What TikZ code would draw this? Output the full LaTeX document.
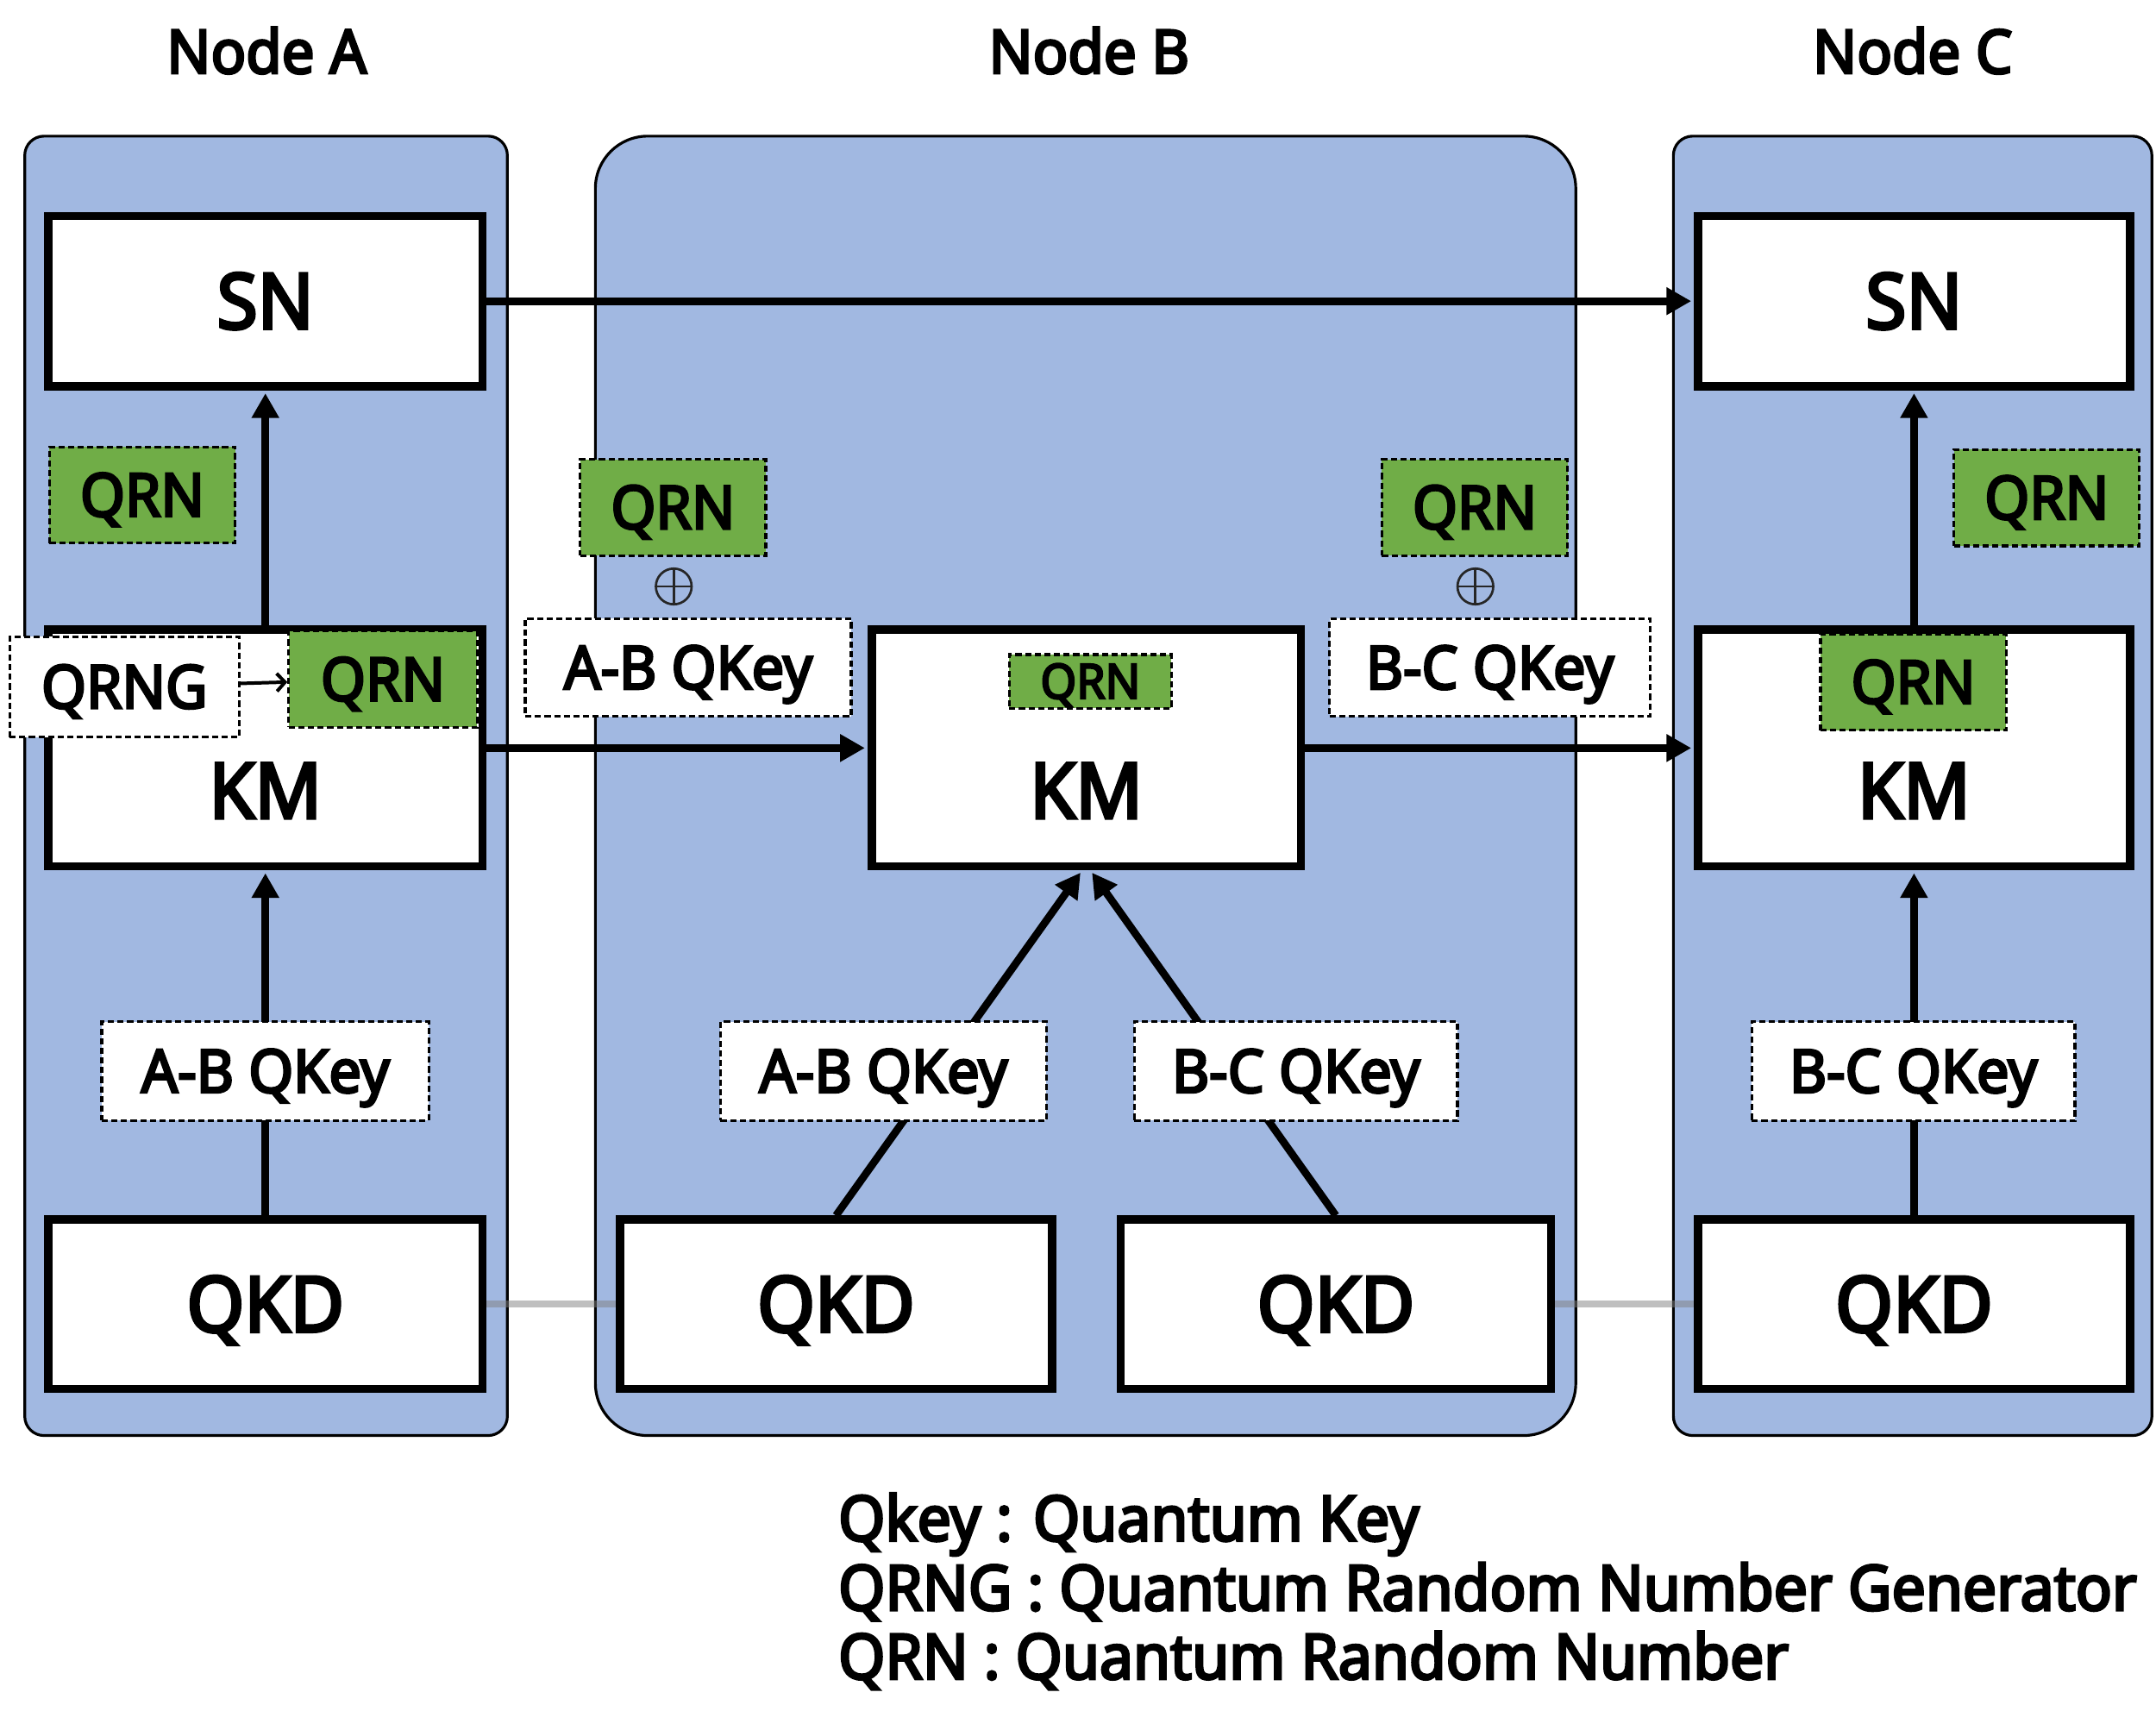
\documentclass[tikz,border=0pt]{standalone}
\usepackage{fontspec}
\setmainfont{Noto Sans}[AutoFakeBold=4.2, FakeStretch=0.96]
\usetikzlibrary{arrows.meta}
\definecolor{cblue}{RGB}{161,184,225}
\definecolor{cgreen}{RGB}{112,173,71}
\newcommand\myfs[1]{\fontsize{#1pt}{#1pt}\selectfont\bfseries}
\begin{document}
\begin{tikzpicture}[x=1pt,y=-1pt,
  container/.style={draw=black, line width=2pt, fill=cblue, inner sep=0pt},
  mainbox/.style={draw=black, line width=6pt, fill=white, inner sep=0pt, font=\myfs{56}, text height=40pt, text depth=0pt},
  bigtext/.style={inner sep=0pt, font=\myfs{56}, text height=40pt, text depth=0pt},
  dashbox/.style={draw=black, line width=2pt, dash pattern=on 4.5pt off 2.5pt, inner sep=0pt, font=\myfs{43.5}, text height=31pt, text depth=0pt},
  qrnbox/.style={dashbox, fill=cgreen},
  keybox/.style={dashbox, fill=white},
  title/.style={inner sep=0pt, anchor=base, font=\myfs{44}},
  legend/.style={inner sep=0pt, anchor=base west, font=\myfs{45.5}},
  arr/.style={line width=5.5pt, -{Triangle[length=18pt,width=19pt]}, shorten >=2pt},
  thinarr/.style={line width=2.5pt, -{Straight Barb[length=6pt,width=13pt]}},
  grayline/.style={line width=5pt, draw=gray, draw opacity=0.5},
  xorsym/.style={circle, draw=black!85, line width=1.7pt, minimum size=26pt, inner sep=0pt,
    path picture={\draw[black!85, line width=1.7pt] (path picture bounding box.north) -- (path picture bounding box.south) (path picture bounding box.west) -- (path picture bounding box.east);}}
]
\useasboundingbox (0,0) rectangle (1568,1258);
\fill[white] (0,0) rectangle (1568,1258);

% titles
\node[title] (tA) at (194,53.3) {Node A};
\node[title] (tB) at (792,53.3) {Node B};
\node[title] (tC) at (1391,53.3) {Node C};

% containers
\node[container, rounded corners=14pt, minimum width=351pt, minimum height=945pt] (contA) at (193.5,571.5) {};
\node[container, rounded corners=38pt, minimum width=713pt, minimum height=945pt] (contB) at (789.5,571.5) {};
\node[container, rounded corners=14pt, minimum width=348pt, minimum height=945pt] (contC) at (1391,571.5) {};

% main boxes
\node[mainbox, minimum width=316pt, minimum height=124pt] (snA) at (193,219) {SN};
\node[mainbox, minimum width=314pt, minimum height=124pt] (snC) at (1392,219) {SN};
\node[mainbox, minimum width=316pt, minimum height=172pt] (kmA) at (193,544) {};
\node[mainbox, minimum width=312pt, minimum height=172pt] (kmB) at (790,544) {};
\node[mainbox, minimum width=314pt, minimum height=172pt] (kmC) at (1392,544) {};
\node[bigtext] (kmAt) at ([yshift=-31pt]kmA.center) {KM};
\node[bigtext] (kmBt) at ([yshift=-31pt]kmB.center) {KM};
\node[bigtext] (kmCt) at ([yshift=-31pt]kmC.center) {KM};
\node[mainbox, minimum width=316pt, minimum height=123pt] (qkdA) at (193,948.5) {QKD};
\node[mainbox, minimum width=314pt, minimum height=123pt] (qkdB1) at (608,948.5) {QKD};
\node[mainbox, minimum width=313pt, minimum height=123pt] (qkdB2) at (971.5,948.5) {QKD};
\node[mainbox, minimum width=314pt, minimum height=123pt] (qkdC) at (1392,948.5) {QKD};

% connectors
\draw[arr] (snA) -- (snC);
\draw[arr] (kmA) -- (kmB);
\draw[arr] (kmB) -- (kmC);
\draw[arr] (kmA.north) -- (snA.south);
\draw[arr] (kmC.north) -- (snC.south);
\draw[arr] (qkdA.north) -- (kmA.south);
\draw[arr] (qkdC.north) -- (kmC.south);
\draw[arr] (qkdB1.north) -- ([xshift=-3pt]kmB.south);
\draw[arr] (qkdB2.north) -- ([xshift=3pt]kmB.south);
\draw[grayline] (qkdA) -- (qkdB1);
\draw[grayline] (qkdB2) -- (qkdC);

% key boxes
\node[keybox, minimum width=238pt, minimum height=72pt] (keyA) at (193,779) {A-B QKey};
\node[keybox, minimum width=237pt, minimum height=72pt] (keyB1) at (642.5,779) {A-B QKey};
\node[keybox, minimum width=235pt, minimum height=72pt] (keyB2) at (942.5,779) {B-C QKey};
\node[keybox, minimum width=235pt, minimum height=72pt] (keyC) at (1391.5,779) {B-C QKey};
\node[keybox, minimum width=237pt, minimum height=71pt] (keyBL) at (500.5,485.5) {A-B QKey};
\node[keybox, minimum width=233pt, minimum height=71pt] (keyBR) at (1083.5,485.5) {B-C QKey};

% QRN boxes
\node[qrnbox, minimum width=135pt, minimum height=70pt] (qrnA) at (103.5,360) {QRN};
\node[qrnbox, minimum width=135pt, minimum height=70pt] (qrnBL) at (489.5,369) {QRN};
\node[qrnbox, minimum width=135pt, minimum height=70pt] (qrnBR) at (1072.5,369) {QRN};
\node[qrnbox, minimum width=135pt, minimum height=70pt] (qrnC) at (1488.5,362) {QRN};
\node[qrnbox, minimum width=137pt, minimum height=70pt] (qrnKA) at (278.5,494) {QRN};
\node[qrnbox, minimum width=118pt, minimum height=39pt, font=\myfs{35}, text height=25pt] (qrnKB) at (793,495.5) {QRN};
\node[qrnbox, minimum width=135pt, minimum height=70pt] (qrnKC) at (1391.5,496) {QRN};
\node[keybox, minimum width=167pt, minimum height=73pt] (qrng) at (90.5,499.5) {QRNG};
\draw[thinarr] (qrng) -- (qrnKA);

% xor symbols
\node[xorsym] (xorL) at (490,426.5) {};
\node[xorsym] (xorR) at (1073,426.5) {};

% legend
\node[legend] (lg1) at (609.5,1120.5) {Qkey : Quantum Key};
\node[legend] (lg2) at (609.5,1171) {QRNG : Quantum Random Number Generator};
\node[legend] (lg3) at (609.5,1221) {QRN : Quantum Random Number};
\end{tikzpicture}
\end{document}
